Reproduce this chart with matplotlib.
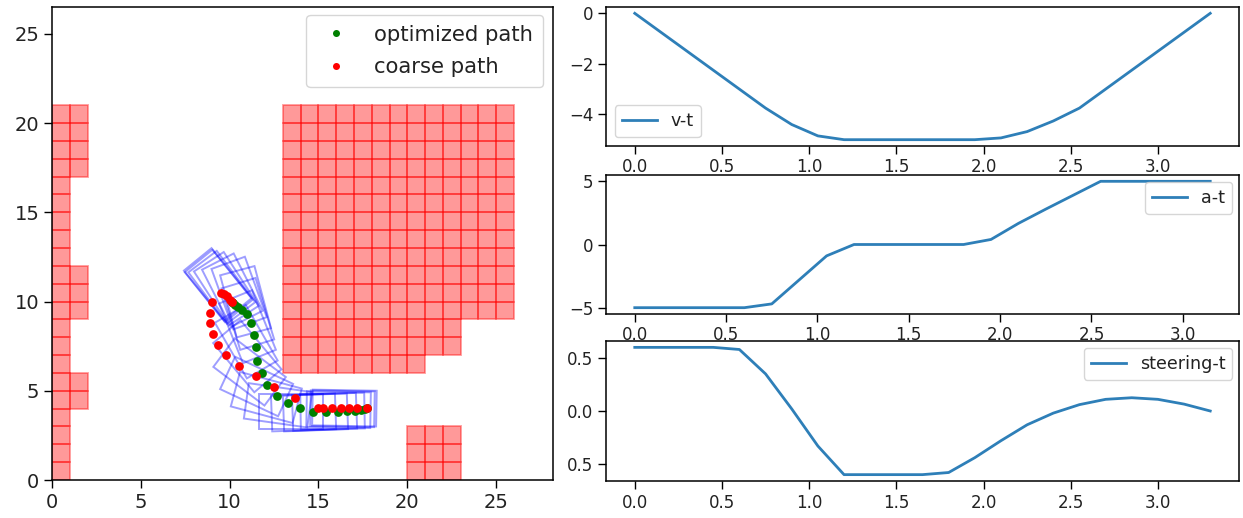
import matplotlib
matplotlib.use("Agg")
import matplotlib.pyplot as plt
from matplotlib.patches import Rectangle
from matplotlib.transforms import Affine2D

# obstacle blocks as (x range, y range) of unit cells
blocks = [
    ((0, 1), (0, 21)),
    ((1, 2), (17, 21)),
    ((1, 2), (9, 12)),
    ((1, 2), (4, 6)),
    ((13, 26), (9, 21)),
    ((13, 23), (7, 9)),
    ((13, 21), (6, 7)),
    ((20, 23), (0, 3)),
]

opt_x = [17.71, 17.60, 17.38, 17.04, 16.59, 16.08, 15.41, 14.71, 13.96, 13.27, 12.65, 12.12,
         11.80, 11.56, 11.47, 11.39, 11.22, 10.96, 10.72, 10.49, 10.31, 10.17, 10.12]
opt_y = [4.01, 3.97, 3.92, 3.88, 3.86, 3.83, 3.83, 3.83, 4.01, 4.30, 4.71, 5.30,
         5.98, 6.67, 7.43, 8.11, 8.78, 9.30, 9.52, 9.67, 9.80, 9.90, 9.99]
opt_yaw = [-1, -1, -1, 1, 2, 2, 2, 0, -8, -15, -25, -37,
           -50, -60, -68, -73, -75, -70, -63, -57, -53, -51, -51]

coarse_x = [17.71, 17.19, 16.74, 16.25, 15.74, 15.24, 14.99, 13.68, 12.50, 11.49, 10.53,
            9.78, 9.35, 9.09, 8.92, 8.92, 9.01, 9.52, 9.69, 9.84, 10.02, 10.12]
coarse_y = [4.01, 4.01, 4.01, 4.01, 4.01, 4.01, 4.01, 4.61, 5.21, 5.81, 6.40,
            6.98, 7.58, 8.17, 8.77, 9.37, 9.97, 10.50, 10.42, 10.31, 10.08, 9.97]

time = [0.15 * i for i in range(23)]
velocity = [0, -0.75, -1.5, -2.25, -3, -3.75, -4.4, -4.85, -5, -5, -5, -5, -5, -5,
            -4.93, -4.68, -4.26, -3.75, -3, -2.25, -1.5, -0.75, 0]
accel = [-5, -5, -5, -5, -5, -4.7, -2.8, -0.9, 0, 0, 0, 0, 0, 0.4, 1.67, 2.8, 3.9, 5, 5, 5, 5, 5]
steering = [0.6, 0.6, 0.6, 0.6, 0.58, 0.35, 0.02, -0.33, -0.6, -0.6, -0.6, -0.6,
            -0.58, -0.44, -0.28, -0.13, -0.02, 0.06, 0.11, 0.125, 0.11, 0.065, 0.0]
steer_ticks = [0.5, 0.0, -0.5]
steer_ticklabels = ["0.5", "0.0", "0.5"]

W, H = 1243, 518
TXT = "#222222"
plt.rcParams.update({"text.color": TXT, "xtick.labelcolor": TXT, "ytick.labelcolor": TXT})
fig = plt.figure(figsize=(W / 100, H / 100), dpi=100)


def axes_px(x0, y0, x1, y1):
    return fig.add_axes([x0 / W, 1 - y1 / H, (x1 - x0) / W, (y1 - y0) / H])


ax = axes_px(52, 7, 553, 480)
for (xa, xb), (ya, yb) in blocks:
    for cx in range(xa, xb):
        for cy in range(ya, yb):
            ax.add_patch(Rectangle((cx, cy), 1, 1, color="red", alpha=0.4, lw=1.3))

CAR_LEN, CAR_WID, FRONT = 3.6, 2.0, 0.55
for px, py, yaw in zip(opt_x, opt_y, opt_yaw):
    tr = Affine2D().rotate_deg_around(px, py, yaw) + ax.transData
    ax.add_patch(Rectangle((px + FRONT - CAR_LEN, py - CAR_WID / 2), CAR_LEN, CAR_WID,
                           fill=False, edgecolor="blue", alpha=0.38, lw=1.4, transform=tr))

ax.plot(opt_x, opt_y, "o", color="green", ms=6.3, mew=0, label="optimized path", zorder=3)
ax.plot(coarse_x, coarse_y, "o", color="red", ms=6.3, mew=0, label="coarse path", zorder=4)
ax.set_xlim(0, 28.2)
ax.set_ylim(0, 26.5)
ax.set_xticks([0, 5, 10, 15, 20, 25])
ax.set_yticks([0, 5, 10, 15, 20, 25])
ax.tick_params(labelsize=14, length=5.5, width=1.0)
ax.legend(loc="upper right", bbox_to_anchor=(543 / W, 1 - 15 / H), bbox_transform=fig.transFigure,
          fontsize=15.2, labelspacing=0.6, handletextpad=0.86, borderaxespad=0,
          borderpad=0.46, handlelength=1.9, markerscale=0.8)
for s in ax.spines.values():
    s.set_linewidth(1.1)

boxes = [(606, 7, 1239, 146), (606, 175, 1239, 314), (606, 341, 1239, 481)]
series = [(time, velocity, "v-t", "lower left", 0.5),
          (time[:-1], accel, "a-t", "upper right", 0.38),
          (time, steering, "steering-t", "upper right", 0.38)]
for box, (t, y, lab, loc, pad) in zip(boxes, series):
    a = axes_px(*box)
    a.plot(t, y, color="#2e7fb8", lw=2.0, label=lab)
    a.tick_params(labelsize=12, length=5.5, width=1.0)
    a.legend(loc=loc, fontsize=12.6, borderaxespad=pad)
    for s in a.spines.values():
        s.set_linewidth(1.1)
    if lab == "steering-t":
        a.set_yticks(steer_ticks)
        a.set_yticklabels(steer_ticklabels)

fig.savefig("out.png", dpi=100)
